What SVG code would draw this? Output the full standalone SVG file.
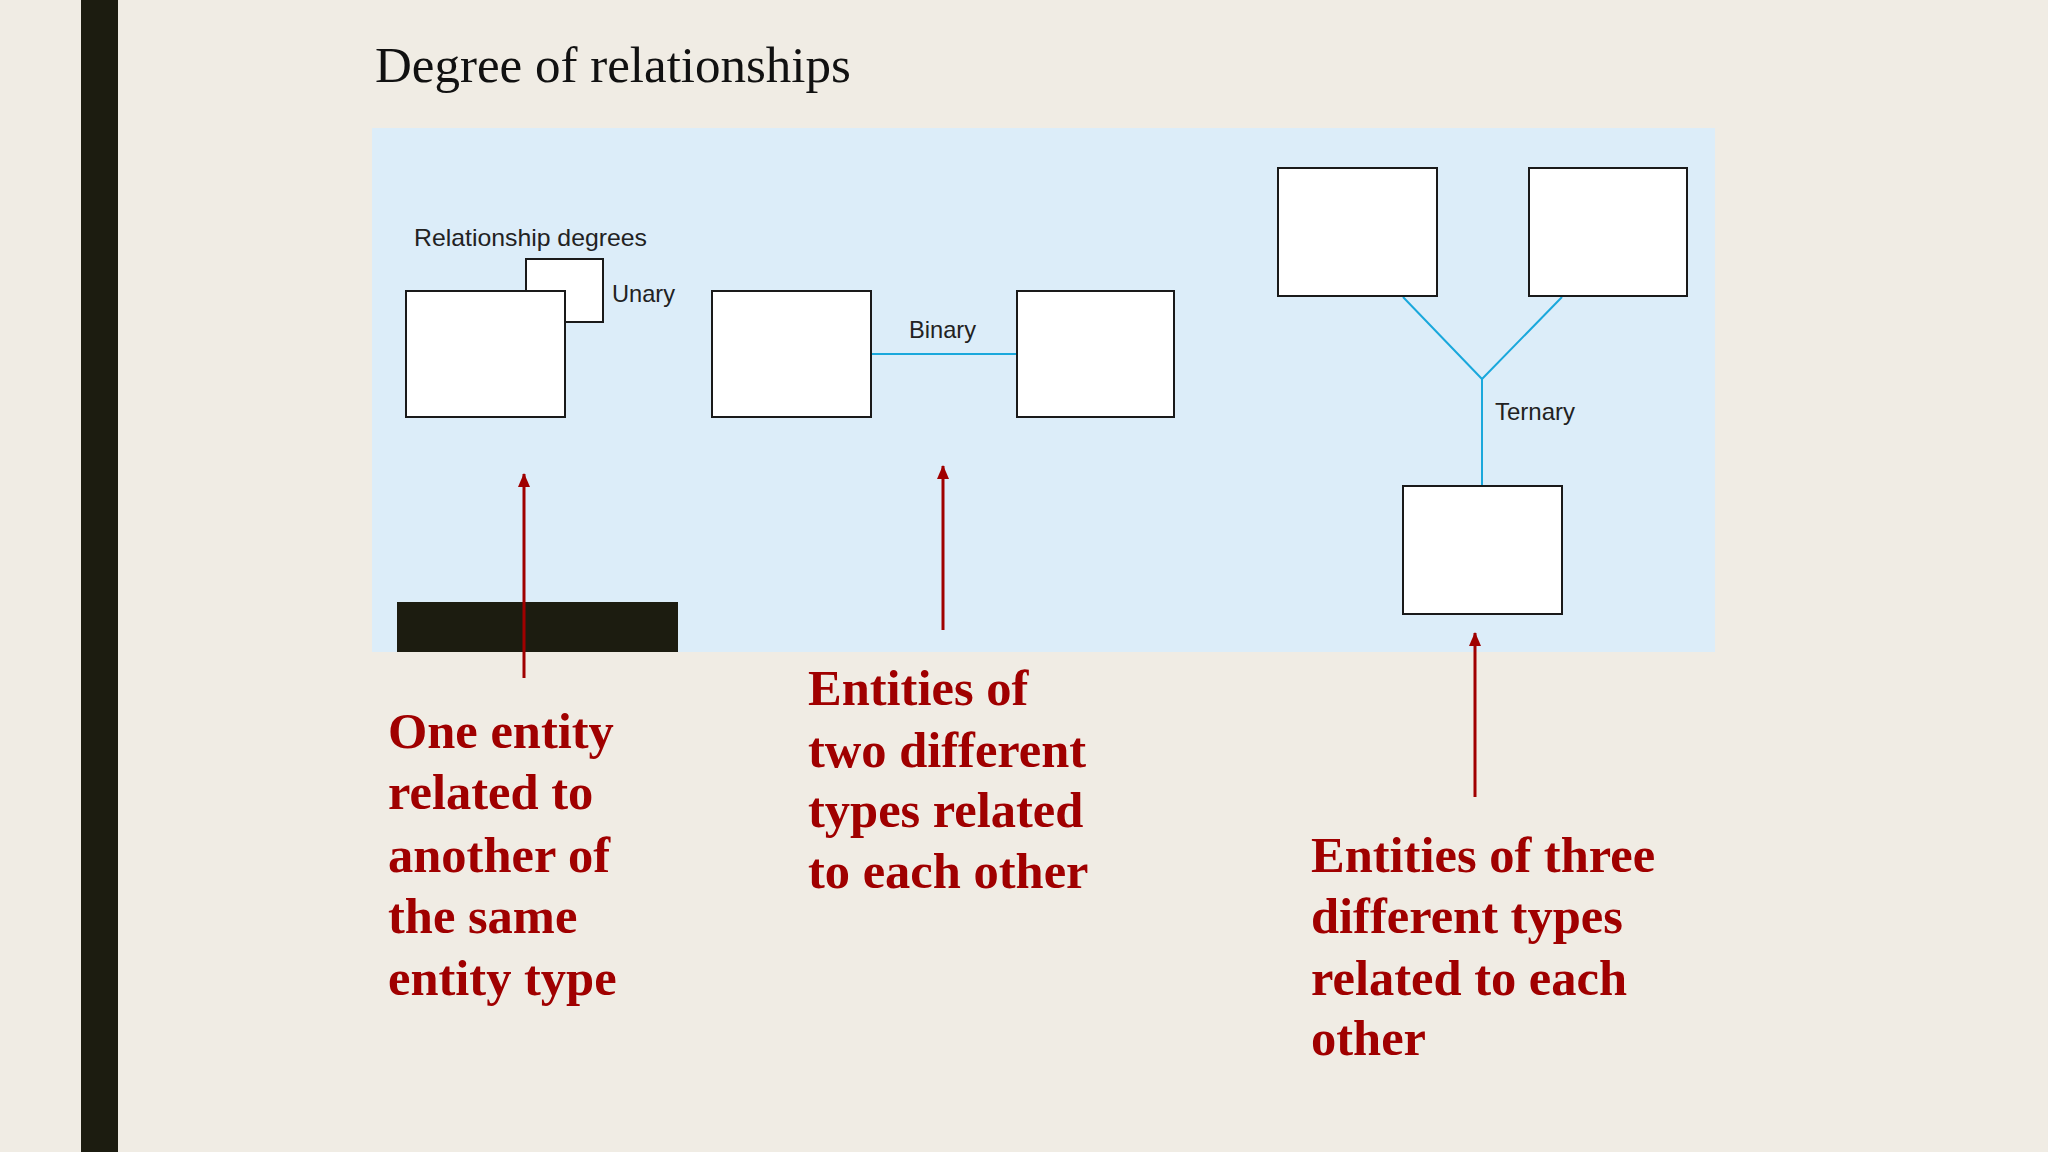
<svg xmlns="http://www.w3.org/2000/svg" width="2048" height="1152" viewBox="0 0 2048 1152">
<style>
.ent{fill:#ffffff;stroke:#1a1a1a;stroke-width:2}
.rel{stroke:#1aa8dc;stroke-width:2;fill:none}
.lbl{font-family:"Liberation Sans",Arial,sans-serif;font-size:24px;fill:#222}
.note{font-family:"Liberation Serif","Times New Roman",serif;font-weight:bold;font-size:50.5px;fill:#a00000}
.arr{stroke:#a00000;stroke-width:3;fill:none}
</style>
<defs>
<marker id="ah" viewBox="0 0 14 12" refX="13" refY="6" markerWidth="14" markerHeight="12" markerUnits="userSpaceOnUse" orient="auto">
<path d="M0,0 L14,6 L0,12 Z" fill="#a00000"/>
</marker>
</defs>
<rect x="0" y="0" width="2048" height="1152" fill="#f0ece4"/>
<rect x="81" y="0" width="37" height="1152" fill="#1c1c10"/>
<text x="375" y="82" font-family="Liberation Serif,'Times New Roman',serif" font-size="51" fill="#111">Degree of relationships</text>
<rect x="372" y="128" width="1343" height="524" fill="#dcedf9"/>
<rect x="397" y="602" width="281" height="50" fill="#1c1c10"/>
<text class="lbl" x="414" y="246" textLength="233" lengthAdjust="spacingAndGlyphs">Relationship degrees</text>
<g id="connectors">
<line class="rel" x1="871" y1="354" x2="1017" y2="354"/>
<polyline class="rel" points="1403,297 1482,379 1562,297"/>
<line class="rel" x1="1482" y1="379" x2="1482" y2="486"/>
<line class="arr" x1="524" y1="678" x2="524" y2="474" marker-end="url(#ah)"/>
<line class="arr" x1="943" y1="630" x2="943" y2="466" marker-end="url(#ah)"/>
<line class="arr" x1="1475" y1="797" x2="1475" y2="633" marker-end="url(#ah)"/>
</g>
<g id="unary">
<rect class="ent" x="526" y="259" width="77" height="63"/>
<rect class="ent" x="406" y="291" width="159" height="126"/>
<text class="lbl" x="612" y="302" textLength="63" lengthAdjust="spacingAndGlyphs">Unary</text>
</g>
<g id="binary">
<rect class="ent" x="712" y="291" width="159" height="126"/>
<rect class="ent" x="1017" y="291" width="157" height="126"/>
<text class="lbl" x="909" y="338" textLength="67" lengthAdjust="spacingAndGlyphs">Binary</text>
</g>
<g id="ternary">
<rect class="ent" x="1278" y="168" width="159" height="128"/>
<rect class="ent" x="1529" y="168" width="158" height="128"/>
<rect class="ent" x="1403" y="486" width="159" height="128"/>
<text class="lbl" x="1495" y="420" textLength="80" lengthAdjust="spacingAndGlyphs">Ternary</text>
</g>
<g id="note-unary">
<text class="note" x="388" y="748">One entity</text>
<text class="note" x="388" y="809">related to</text>
<text class="note" x="388" y="872">another of</text>
<text class="note" x="388" y="933">the same</text>
<text class="note" x="388" y="995">entity type</text>
</g>
<g id="note-binary">
<text class="note" x="808" y="705">Entities of</text>
<text class="note" x="808" y="767">two different</text>
<text class="note" x="808" y="827">types related</text>
<text class="note" x="808" y="888">to each other</text>
</g>
<g id="note-ternary">
<text class="note" x="1311" y="872">Entities of three</text>
<text class="note" x="1311" y="933">different types</text>
<text class="note" x="1311" y="995">related to each</text>
<text class="note" x="1311" y="1055">other</text>
</g>
</svg>
